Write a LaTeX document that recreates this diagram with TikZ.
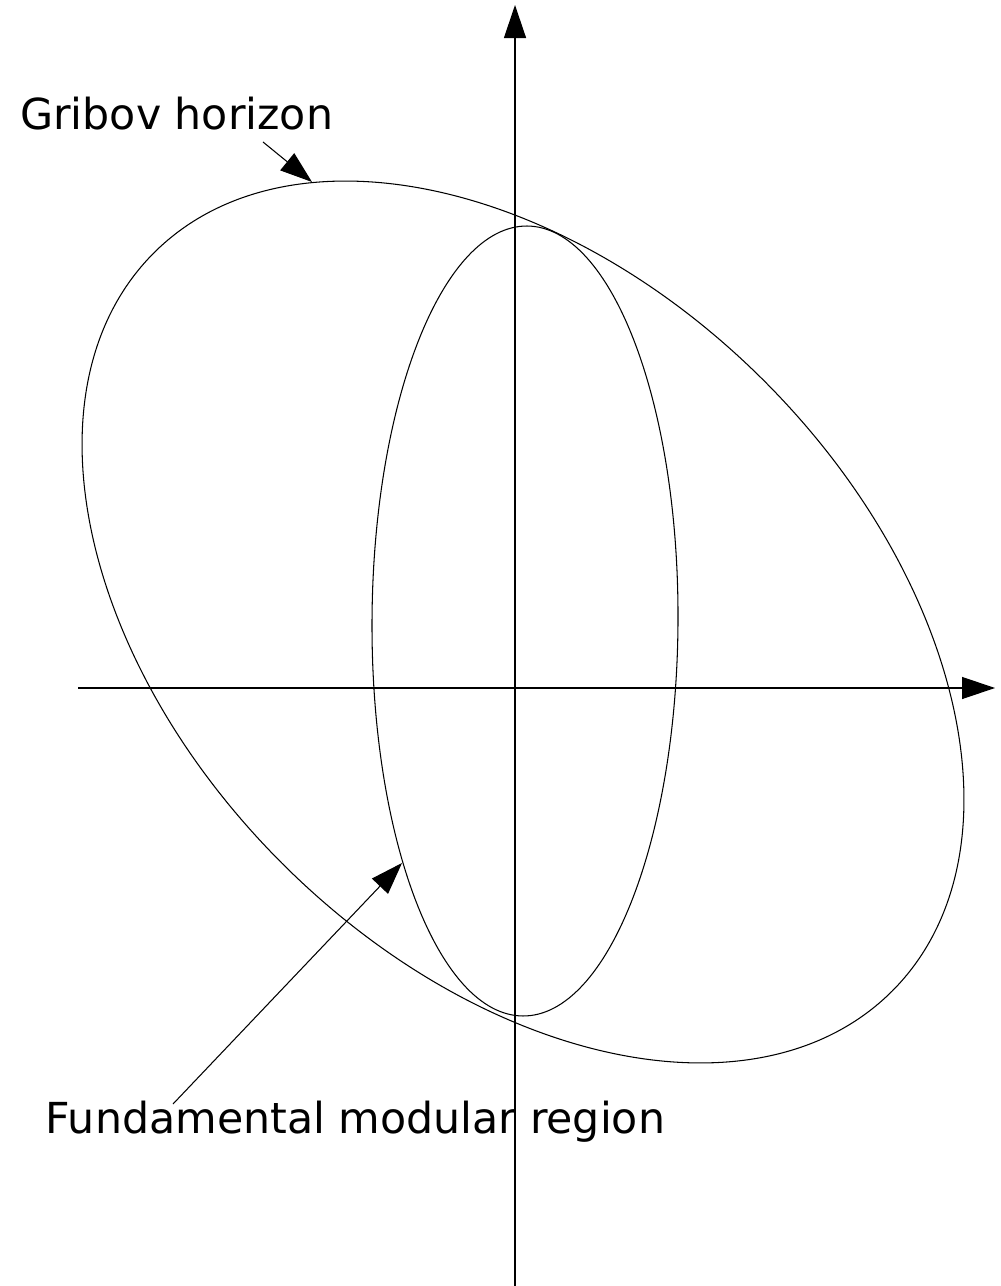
\documentclass[tikz,border=0pt]{standalone}
\usepackage{fontspec}
\setmainfont{DejaVu Sans}
\usetikzlibrary{arrows.meta}
\begin{document}
\begin{tikzpicture}[x=0.01cm,y=0.01cm,
  thinline/.style={line width=0.3pt},
  axisline/.style={line width=0.35pt, -{Triangle[length=0.33cm,width=0.22cm]}},
  pointer/.style={line width=0.3pt, -{Triangle[length=0.32cm,width=0.22cm]}},
  lbl/.style={anchor=base west, inner sep=0pt, font=\fontsize{12.15pt}{14.5pt}\selectfont}]
\useasboundingbox (0,0) rectangle (1000,-1286);
% axes
\coordinate (ybot) at (515,-1286);
\coordinate (ytop) at (515,-5);
\coordinate (xleft) at (78,-688);
\coordinate (xright) at (995,-688);
\draw[axisline] (ybot) -- (ytop);
\draw[axisline] (xleft) -- (xright);
% inner ellipse (fundamental modular region)
\draw[thinline, rotate around={-0.3:(525,-621)}] (525,-621) ellipse [x radius=153, y radius=395];
% outer ellipse (Gribov horizon)
\draw[thinline, rotate around={-45:(523,-622)}] (523,-622) ellipse [x radius=522, y radius=341];
% labels
\node[lbl] (gribov) at (19.5,-130) {Gribov horizon};
\node[lbl] (fmr) at (45,-1133) {Fundamental modular region};
% pointers
\coordinate (gstart) at (263,-142);
\coordinate (gtip) at (312,-182);
\coordinate (fstart) at (173,-1104);
\coordinate (ftip) at (402,-863);
\draw[pointer] (gstart) -- (gtip);
\draw[pointer] (fstart) -- (ftip);
\end{tikzpicture}
\end{document}
